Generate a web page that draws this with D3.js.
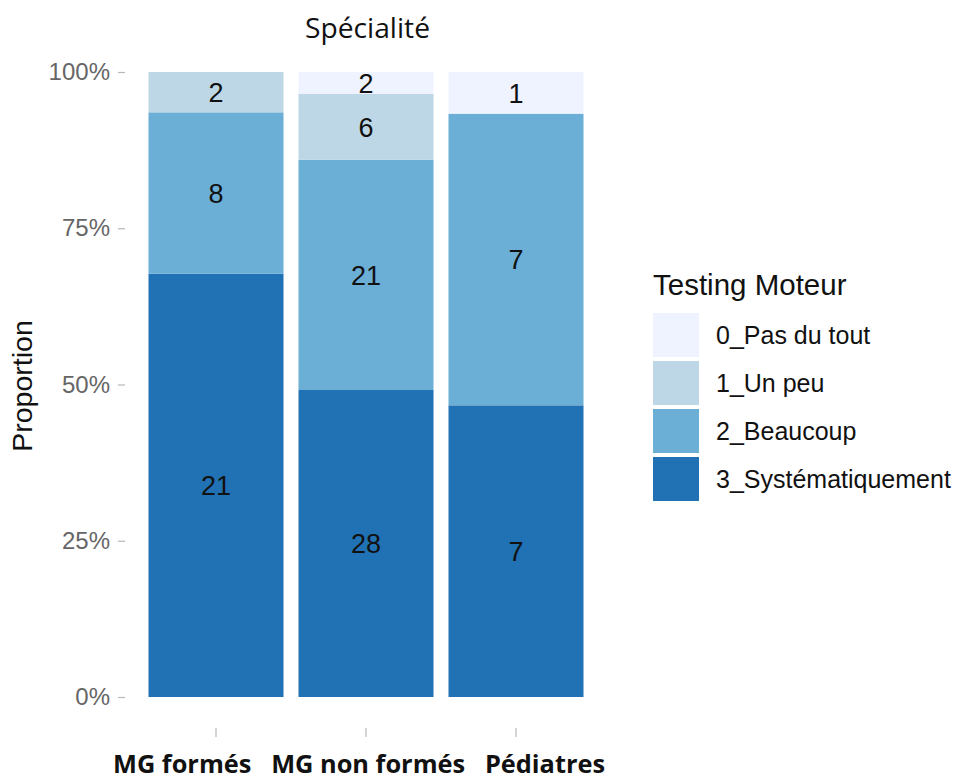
<!DOCTYPE html>
<html>
<head>
<meta charset="utf-8">
<script src="https://cdn.jsdelivr.net/npm/d3@7"></script>
<style>
  html, body { margin: 0; padding: 0; background: #ffffff; }
  svg { display: block; }
</style>
</head>
<body>
<svg id="chart" width="963" height="780"></svg>
<script>
// Specialities on the x axis
const categories = ["MG formés", "MG non formés", "Pédiatres"];
// Answer levels, top of the stack first
const levels = ["0_Pas du tout", "1_Un peu", "2_Beaucoup", "3_Systématiquement"];
// Counts per level, one value per speciality
const pasDuTout = [0, 2, 1];
const unPeu = [2, 6, 0];
const beaucoup = [8, 21, 7];
const systematiquement = [21, 28, 7];
const yTicks = [0, 0.25, 0.5, 0.75, 1];
const yTickLabels = ["0%", "25%", "50%", "75%", "100%"];
const colors = ["#eff3ff", "#bdd7e7", "#6baed6", "#2171b5"];

const countsByLevel = [pasDuTout, unPeu, beaucoup, systematiquement];

const svg = d3.select("#chart");

const x = d3.scaleBand()
  .domain(categories)
  .range([126, 606])
  .paddingInner(0.1)
  .paddingOuter(0.15);

const y = d3.scaleLinear().domain([0, 1]).range([697, 72]);

const color = d3.scaleOrdinal().domain(levels).range(colors);

// Proportions per speciality, stacked bottom-up from level 3 to level 0
const rows = categories.map((c, i) => {
  const row = { cat: c };
  const total = d3.sum(countsByLevel, arr => arr[i]);
  levels.forEach((l, j) => { row[l] = countsByLevel[j][i] / total; row["n_" + l] = countsByLevel[j][i]; });
  return row;
});

const stackKeys = levels.slice().reverse();
const series = d3.stack().keys(stackKeys)(rows);

const g = svg.append("g");

series.forEach(s => {
  g.selectAll(null)
    .data(s)
    .join("rect")
    .attr("x", d => x(d.data.cat))
    .attr("width", x.bandwidth())
    .attr("y", d => y(d[1]))
    .attr("height", d => y(d[0]) - y(d[1]))
    .attr("fill", color(s.key));
});

// Count labels centred on each segment
series.forEach(s => {
  g.selectAll(null)
    .data(s.filter(d => d.data["n_" + s.key] > 0))
    .join("text")
    .attr("x", d => x(d.data.cat) + x.bandwidth() / 2)
    .attr("y", d => y((d[0] + d[1]) / 2))
    .attr("dy", "0.36em")
    .attr("text-anchor", "middle")
    .attr("font-family", "Liberation Sans, Arial, sans-serif")
    .attr("font-size", 27)
    .attr("fill", "#111")
    .text(d => d.data["n_" + s.key]);
});

// Y axis
const yAxis = d3.axisLeft(y)
  .tickValues(yTicks)
  .tickFormat((d, i) => yTickLabels[i])
  .tickSize(7)
  .tickPadding(8);
const ya = svg.append("g").attr("transform", "translate(125,0)").call(yAxis);
ya.select(".domain").remove();
ya.selectAll(".tick line").attr("stroke", "#b8b8b8").attr("stroke-width", 1.2);
ya.selectAll(".tick text")
  .attr("font-family", "Liberation Sans, Arial, sans-serif")
  .attr("font-size", 24)
  .attr("fill", "#666");

// X axis: tick marks only, the category names sit on one line below
const xAxis = d3.axisBottom(x).tickSize(9).tickFormat("");
const xa = svg.append("g").attr("transform", "translate(0,728)").call(xAxis);
xa.select(".domain").remove();
xa.selectAll(".tick line").attr("stroke", "#b8b8b8").attr("stroke-width", 1.2);

svg.append("text")
  .attr("xml:space", "preserve")
  .style("white-space", "pre")
  .attr("x", 113).attr("y", 773)
  .attr("textLength", 492)
  .attr("lengthAdjust", "spacingAndGlyphs")
  .attr("font-family", "Open Sans, sans-serif")
  .attr("font-weight", "bold")
  .attr("font-size", 24.5)
  .attr("fill", "#111")
  .text(categories.join("   "));

// Title
svg.append("text")
  .attr("x", 367.5).attr("y", 38)
  .attr("text-anchor", "middle")
  .attr("textLength", 125)
  .attr("lengthAdjust", "spacingAndGlyphs")
  .attr("font-family", "Open Sans, sans-serif")
  .attr("font-size", 27)
  .attr("fill", "#111")
  .text("Spécialité");

// Y axis title
svg.append("text")
  .attr("transform", "translate(32,386) rotate(-90)")
  .attr("text-anchor", "middle")
  .attr("font-family", "Liberation Sans, Arial, sans-serif")
  .attr("font-size", 28.5)
  .attr("fill", "#111")
  .text("Proportion");

// Legend
const lg = svg.append("g").attr("transform", "translate(653,0)");
lg.append("text")
  .attr("x", 0).attr("y", 295)
  .attr("font-family", "Liberation Sans, Arial, sans-serif")
  .attr("font-size", 29.5)
  .attr("fill", "#111")
  .text("Testing Moteur");

const items = lg.selectAll("g.item").data(levels).join("g")
  .attr("class", "item")
  .attr("transform", (d, i) => `translate(0,${313 + i * 48})`);
items.append("rect")
  .attr("width", 46).attr("height", 44)
  .attr("fill", d => color(d));
items.append("text")
  .attr("x", 63).attr("y", 22).attr("dy", "0.36em")
  .attr("font-family", "Liberation Sans, Arial, sans-serif")
  .attr("font-size", 25)
  .attr("fill", "#111")
  .text(d => d);
</script>
</body>
</html>
